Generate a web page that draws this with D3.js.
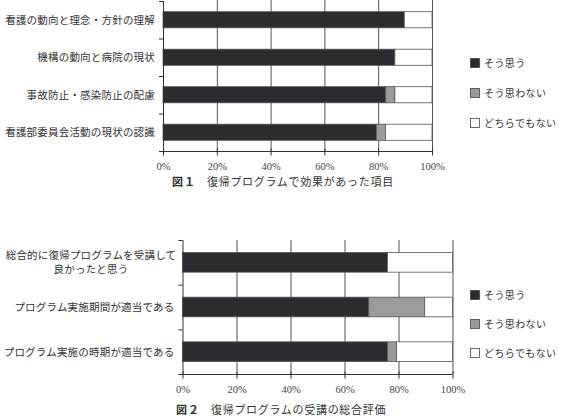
<!DOCTYPE html>
<html>
<head>
<meta charset="utf-8">
<script src="https://cdn.jsdelivr.net/npm/d3@7"></script>
<style>
  body { margin: 0; background: #fff; }
  svg text { font-family: "Noto Sans CJK JP", sans-serif; fill: #333; }
</style>
</head>
<body>
<div id="chart"></div>
<script>
// series keys / legend labels
var keys = ["そう思う", "そう思わない", "どちらでもない"]
var colors = ["#2b2b30", "#9b9b9b", "#ffffff"]
var tickValues = [0, 20, 40, 60, 80, 100]

// figure 1
var categories1 = ["看護の動向と理念・方針の理解", "機構の動向と病院の現状", "事故防止・感染防止の配慮", "看護部委員会活動の現状の認識"]
var agree1 = [89.7, 86.2, 82.8, 79.3]
var disagree1 = [0, 0, 3.4, 3.4]
var neutral1 = [10.3, 13.8, 13.8, 17.3]
var title1 = ["図１", "復帰プログラムで効果があった項目"]

// figure 2
var categories2 = [["総合的に復帰プログラムを受講して", "良かったと思う"], ["プログラム実施期間が適当である"], ["プログラム実施の時期が適当である"]]
var agree2 = [75.9, 69.0, 75.9]
var disagree2 = [0, 20.7, 3.4]
var neutral2 = [24.1, 10.3, 20.7]
var title2 = ["図２", "復帰プログラムの受講の総合評価"]

var width = 567, height = 418

var svg = d3.select("#chart").append("svg")
    .attr("width", width)
    .attr("height", height)

function drawChart(opt) {
    var rows = opt.cats.map(function(c, i) {
        var r = {cat: i}
        r[keys[0]] = opt.a[i]; r[keys[1]] = opt.d[i]; r[keys[2]] = opt.n[i]
        return r
    })
    var series = d3.stack().keys(keys)(rows)

    var x = d3.scaleLinear().domain([0, 100]).range([opt.left, opt.right])
    var y = d3.scaleBand().domain(d3.range(opt.cats.length))
        .range([opt.top, opt.bottom])
        .paddingInner(opt.pad).paddingOuter(opt.pad / 2)

    var g = svg.append("g")

    // vertical gridlines
    g.selectAll("line.grid")
        .data(tickValues.slice(1))
        .enter().append("line")
        .attr("x1", function(d) { return x(d) + 0.5 })
        .attr("x2", function(d) { return x(d) + 0.5 })
        .attr("y1", opt.gridTop)
        .attr("y2", opt.bottom)
        .style("stroke", "#555")
        .style("stroke-width", 1)

    // bars
    g.selectAll("g.layer")
        .data(series)
        .enter().append("g")
        .attr("fill", function(d, i) { return colors[i] })
        .selectAll("rect")
        .data(function(d) { return d.filter(function(p) { return p[1] - p[0] > 0 }) })
        .enter().append("rect")
        .attr("x", function(d) { return x(d[0]) })
        .attr("width", function(d) { return x(d[1]) - x(d[0]) })
        .attr("y", function(d) { return y(d.data.cat) })
        .attr("height", y.bandwidth())
        .style("stroke", "#555")
        .style("stroke-width", 0.8)

    // bottom axis
    var xAxis = g.append("g")
        .attr("transform", "translate(0," + (opt.bottom + 0.5) + ")")
        .call(d3.axisBottom(x).tickValues(tickValues)
            .tickFormat(function(d) { return d + "%" })
            .tickSize(4).tickPadding(7))
    xAxis.select(".domain").style("stroke", "#333").attr("d", "M" + opt.left + ",0H" + opt.right)
    xAxis.selectAll(".tick line").style("stroke", "#333").attr("y1", -3)
    xAxis.selectAll("text")
        .style("font-size", "10.5px")
        .style("font-family", "'Liberation Serif', serif")
        .style("fill", "#444")

    // left axis line with ticks at band boundaries
    g.append("line")
        .attr("x1", opt.left + 0.5).attr("x2", opt.left + 0.5)
        .attr("y1", opt.top).attr("y2", opt.bottom)
        .style("stroke", "#333")
    g.selectAll("line.ytick")
        .data(d3.range(opt.cats.length + 1))
        .enter().append("line")
        .attr("x1", opt.left - 4).attr("x2", opt.left)
        .attr("y1", function(i) { return y.range()[0] + i * y.step() + 0.5 })
        .attr("y2", function(i) { return y.range()[0] + i * y.step() + 0.5 })
        .style("stroke", "#333")

    // category labels (one text per line)
    opt.cats.forEach(function(c, i) {
        var lines = Array.isArray(c) ? c : [c]
        var cy = y(i) + y.bandwidth() / 2
        lines.forEach(function(l, j) {
            g.append("text")
                .attr("text-anchor", lines.length > 1 ? "middle" : "end")
                .attr("x", lines.length > 1 ? opt.labelMid : opt.left - 8)
                .attr("y", cy + 4 + (j - (lines.length - 1) / 2) * 14)
                .style("font-size", "10.5px")
                .style("letter-spacing", "0.2px")
                .text(l)
        })
    })

    // legend
    var leg = g.selectAll("g.legend")
        .data(keys)
        .enter().append("g")
        .attr("transform", function(d, i) { return "translate(" + opt.legX + "," + (opt.legY + i * opt.legStep) + ")" })
    leg.append("rect")
        .attr("x", 0.5).attr("y", -4.5)
        .attr("width", 9).attr("height", 9)
        .attr("fill", function(d, i) { return colors[i] })
        .style("stroke", "#444")
        .style("stroke-width", 0.8)
    leg.append("text")
        .attr("x", 14).attr("y", 4)
        .style("font-size", "10px")
        .style("letter-spacing", "0.4px")
        .text(function(d) { return d })

    // figure caption
    var cap = g.append("text")
        .attr("x", opt.capX).attr("y", opt.capY)
        .style("font-size", "11px")
    cap.append("tspan").style("font-weight", "bold").style("letter-spacing", "1px").text(opt.title[0])
    cap.append("tspan").attr("dx", 11).style("letter-spacing", "0.7px").text(opt.title[1])
}

drawChart({
    cats: categories1, a: agree1, d: disagree1, n: neutral1, title: title1,
    left: 163, right: 432, top: 1, bottom: 151, gridTop: 0, pad: 0.57,
    labelMid: 90, legX: 470, legY: 63, legStep: 30, capX: 172, capY: 186
})

drawChart({
    cats: categories2, a: agree2, d: disagree2, n: neutral2, title: title2,
    left: 182.5, right: 452.5, top: 240, bottom: 374, gridTop: 240, pad: 0.56,
    labelMid: 91, legX: 470, legY: 295, legStep: 29, capX: 176, capY: 414
})
</script>
</body>
</html>
